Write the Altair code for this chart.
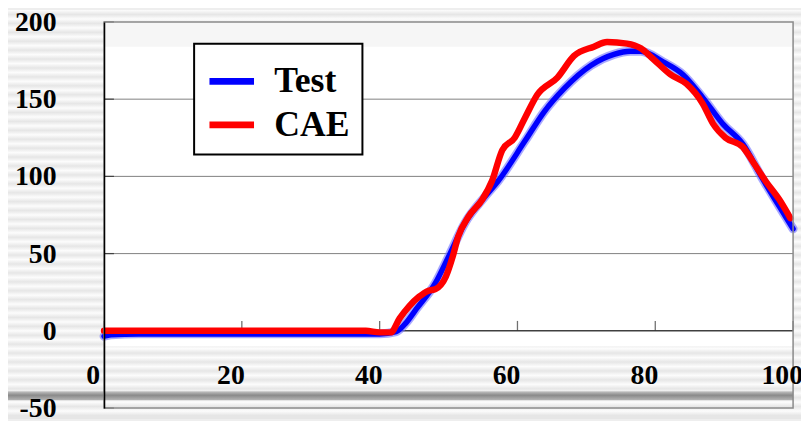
import altair as alt
import pandas as pd

# ---------------- data ----------------
test_x = [0, 1, 5, 10, 20, 30, 40, 42.4, 43.8, 45.3, 48.1, 50, 52.4, 55.3, 57.2,
          61.1, 63.9, 66.8, 70.7, 74, 76.4, 77.9, 81.2, 84, 86.9, 89.8, 92.7,
          95.5, 98.9, 100]
test_y = [-3.5, -2.5, -2, -2, -2, -2, -2, -0.5, 5, 14, 31, 48, 70, 87, 97,
          123, 142, 157, 172, 179, 181, 181, 174, 166, 151, 134, 121,
          99, 74, 66]

cae_x = [0, 10, 20, 30, 38, 40, 41.6, 42.9, 44.3, 45.7, 47.1, 48.1, 49.6, 50.6,
         51.4, 52.9, 54.9, 56.3, 57.8, 59.6, 61.1, 62.9, 65.8, 68.2, 71.1, 73,
         75.9, 77.9, 79.7, 82.2, 84.5, 86.9, 88.4, 90.2, 92.7, 94.1, 96, 98, 99.6]
cae_y = [0, 0, 0, 0, 0, -1, -1, 8, 16, 22, 26, 27, 35, 48,
         61, 74, 85, 97, 117, 125, 138, 153, 164, 178, 184, 187,
         186, 183, 176, 166, 160, 147, 134, 125, 119, 110, 97, 85, 73]

x_ticks = [0, 20, 40, 60, 80, 100]
x_labels = ["0", "20", "40", "60", "80", "100"]
y_ticks = [-50, 0, 50, 100, 150, 200]
y_labels = ["-50", "0", "50", "100", "150", "200"]
grid_values = [50, 100, 150]
series_names = ["Test", "CAE"]
series_colors = ["#0000ff", "#ff0000"]

# ---------------- layout / style ----------------
W, H = 696, 390
PAD = {"left": 97, "top": 12, "right": 8, "bottom": 11}
FONT = "Liberation Serif"

xs = alt.Scale(domain=[0, 100], nice=False, zero=False)
ys = alt.Scale(domain=[-50, 200], nice=False, zero=False)

AX_X = alt.Axis(values=x_ticks, domain=False, ticks=False, labels=False,
                grid=False, title=None)
AX_Y = alt.Axis(values=y_ticks, domain=True, domainColor="black", domainWidth=1.5,
                ticks=False, labels=False, grid=False, title=None, zindex=1)

LEG = alt.Legend(orient="none", legendX=91, legendY=22, title=None,
                 fillColor="white", strokeColor="black", padding=12,
                 symbolType="stroke", symbolSize=2025, symbolStrokeWidth=7,
                 labelFont=FONT, labelFontSize=36, labelFontWeight="bold",
                 labelColor="black", labelOffset=17, rowPadding=0, cornerRadius=0)

COLOR = alt.Color("series:N", scale=alt.Scale(domain=series_names, range=series_colors),
                  legend=LEG)

df_test = pd.DataFrame({"x": test_x, "y": test_y, "series": "Test"})
df_cae = pd.DataFrame({"x": cae_x, "y": cae_y, "series": "CAE"})
one = pd.DataFrame({"a": [0]})

# striped slide background
stripe_total = 413.0
period = 9.0
stops = []
k = 0
while k * period < stripe_total:
    o1 = k * period / stripe_total
    o2 = min(1.0, (k * period + period / 2) / stripe_total)
    stops.append(alt.GradientStop(offset=o1, color="#fcfcfc"))
    stops.append(alt.GradientStop(offset=o2, color="#e6e6e6"))
    k += 1
stripes = alt.LinearGradient(gradient="linear", stops=stops, x1=0, x2=0, y1=0, y2=1)

bg = alt.Chart(one).mark_rect(fill=stripes).encode(
    x=alt.value(-97), x2=alt.value(W + 8), y=alt.value(-12), y2=alt.value(H + 11))

band_grad = alt.LinearGradient(gradient="linear", x1=0, x2=0, y1=0, y2=1, stops=[
    alt.GradientStop(offset=0, color="#c4c4c4"),
    alt.GradientStop(offset=0.45, color="#8a8a8a"),
    alt.GradientStop(offset=1, color="#b4b4b4")])
band = alt.Chart(one).mark_rect(fill=band_grad).encode(
    x=alt.value(-97), x2=alt.value(W), y=alt.value(373), y2=alt.value(382))

white_df = pd.DataFrame({"x0": [0], "x1": [100], "y0": [-10], "y1": [200]})
white = alt.Chart(white_df).mark_rect(fill="white").encode(
    x=alt.X("x0:Q", scale=xs, axis=AX_X), x2="x1",
    y=alt.Y("y0:Q", scale=ys, axis=AX_Y), y2="y1")

top_df = pd.DataFrame({"x0": [0], "x1": [100], "y0": [184], "y1": [200]})
topstrip = alt.Chart(top_df).mark_rect(fill="#f6f6f6").encode(
    x=alt.X("x0:Q", scale=xs, axis=AX_X), x2="x1",
    y=alt.Y("y0:Q", scale=ys, axis=AX_Y), y2="y1")

grid = alt.Chart(pd.DataFrame({"v": grid_values})).mark_rule(
    color="#808080", strokeWidth=1).encode(y=alt.Y("v:Q", scale=ys, axis=AX_Y))

zero = alt.Chart(pd.DataFrame({"v": [0]})).mark_rule(
    color="#404040", strokeWidth=1.5).encode(y=alt.Y("v:Q", scale=ys, axis=AX_Y))

xt = alt.Chart(pd.DataFrame({"x": x_ticks, "y": [0] * len(x_ticks)})).mark_tick(
    orient="vertical", size=10, thickness=1.3, color="#333333", yOffset=-5).encode(
    x=alt.X("x:Q", scale=xs, axis=AX_X), y=alt.Y("y:Q", scale=ys, axis=AX_Y))

yt = alt.Chart(pd.DataFrame({"y": y_ticks, "x": [0] * len(y_ticks)})).mark_tick(
    orient="horizontal", size=10, thickness=1.3, color="#222222", xOffset=5).encode(
    x=alt.X("x:Q", scale=xs, axis=AX_X), y=alt.Y("y:Q", scale=ys, axis=AX_Y))

xlab = alt.Chart(pd.DataFrame({"x": x_ticks, "label": x_labels})).mark_text(
    font=FONT, fontSize=28, fontWeight="bold", color="black", dx=-11,
    baseline="middle", align="center").encode(
    x=alt.X("x:Q", scale=xs, axis=AX_X), y=alt.value(358), text="label:N")

ylab = alt.Chart(pd.DataFrame({"y": y_ticks, "label": y_labels})).mark_text(
    font=FONT, fontSize=28, fontWeight="bold", color="black", dy=1,
    baseline="middle", align="right").encode(
    x=alt.value(-48), y=alt.Y("y:Q", scale=ys, axis=AX_Y), text="label:N")

halo = alt.Chart(df_test).mark_line(
    color="#6f6fff", strokeWidth=9, opacity=0.6, interpolate="monotone",
    strokeCap="round", strokeJoin="round").encode(
    x=alt.X("x:Q", scale=xs, axis=AX_X), y=alt.Y("y:Q", scale=ys, axis=AX_Y))

blue = alt.Chart(df_test).mark_line(
    strokeWidth=5.5, interpolate="monotone", strokeCap="round", strokeJoin="round").encode(
    x=alt.X("x:Q", scale=xs, axis=AX_X), y=alt.Y("y:Q", scale=ys, axis=AX_Y), color=COLOR)

red = alt.Chart(df_cae).mark_line(
    strokeWidth=6.5, interpolate="monotone", strokeCap="round", strokeJoin="round").encode(
    x=alt.X("x:Q", scale=xs, axis=AX_X), y=alt.Y("y:Q", scale=ys, axis=AX_Y), color=COLOR)

frame_df = pd.DataFrame({"x0": [0], "x1": [100], "y0": [-50], "y1": [200]})
frame = alt.Chart(frame_df).mark_rect(fillOpacity=0, stroke="#8a8a8a", strokeWidth=1.5).encode(
    x=alt.X("x0:Q", scale=xs, axis=AX_X), x2="x1",
    y=alt.Y("y0:Q", scale=ys, axis=AX_Y), y2="y1")

chart = alt.layer(bg, band, white, topstrip, grid, zero, xt, yt, halo, blue, red, frame,
                  xlab, ylab).properties(
    width=W, height=H, padding=PAD, autosize="none", background="#eeeeee"
).configure_view(strokeWidth=0).configure_legend(strokeWidth=2)

chart.save("out.html", embed_options={"renderer": "svg", "actions": False})
